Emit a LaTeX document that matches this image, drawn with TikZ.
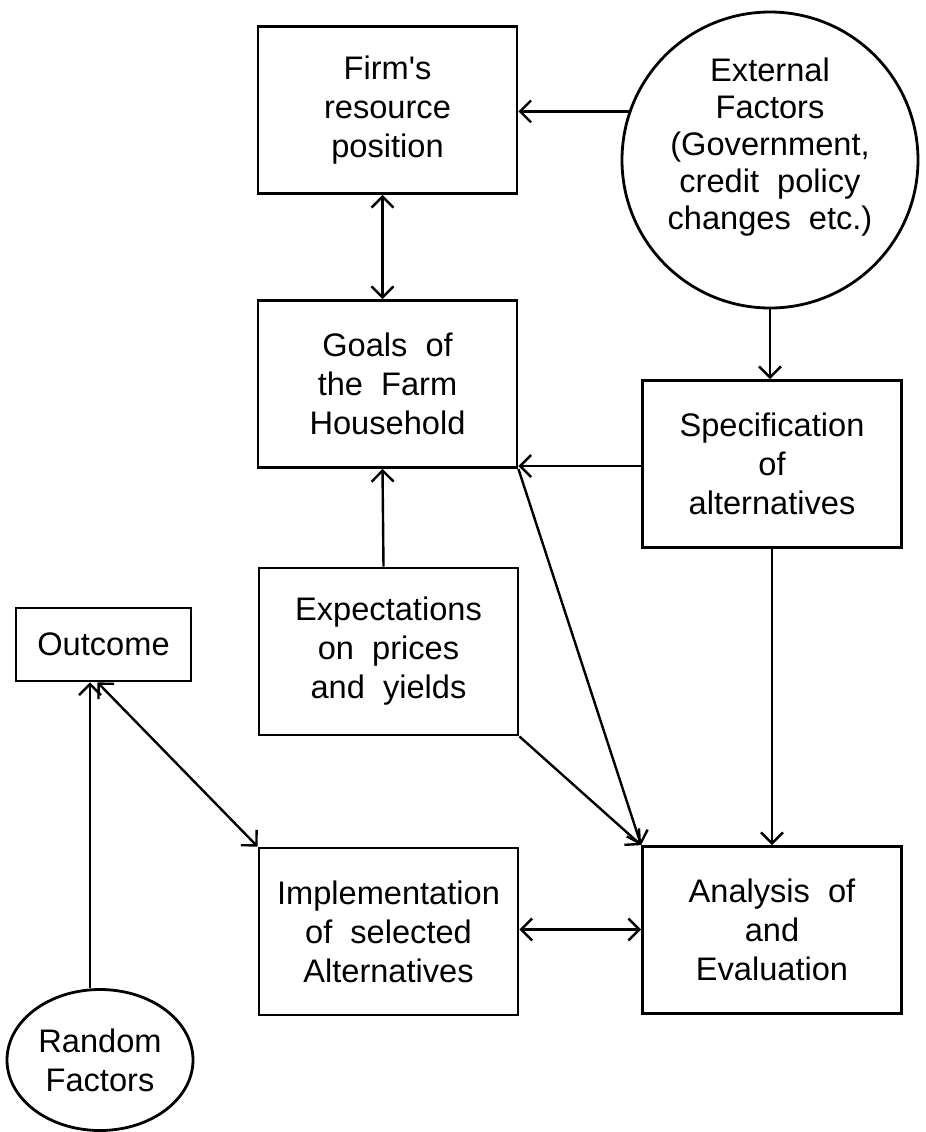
\documentclass[tikz,border=0pt]{standalone}
\usepackage{fontspec}
\setmainfont{Liberation Sans}
\usetikzlibrary{arrows.meta,shapes.geometric}
\begin{document}
\begin{tikzpicture}[x=0.5pt,y=-0.5pt,
  box/.style={draw, line width=1.4pt, minimum width=129.5pt, minimum height=83.5pt, inner sep=0pt, align=center, font=\fontsize{16.3}{19.5}\selectfont},
  conn/.style={line width=1.2pt, -{Straight Barb[length=5.5pt,width=11pt,line width=1.2pt]}},
  dconn/.style={line width=1.2pt, {Straight Barb[length=5.5pt,width=11pt,line width=1.2pt]}-{Straight Barb[length=5.5pt,width=11pt,line width=1.2pt]}},
  plain/.style={line width=1.2pt}
]
\useasboundingbox (0,0) rectangle (926,1132);

\node[box] (firm) at (387.5,110) {Firm\textquotesingle s\\resource\\position};
\node[draw, circle, line width=1.4pt, minimum size=148pt, inner sep=0pt] (ext) at (770,160) {};
\node[align=center, font=\fontsize{16.3}{18.5}\selectfont] (extt) at (770,147) {External\\Factors\\(Government,\\credit\ \ policy\\changes\ \ etc.)};
\node[box] (goals) at (387.5,384) {Goals\ \ of\\the\ \ Farm\\Household};
\node[box] (spec) at (772,464) {Specification\\of\\alternatives};
\node[box] (exp) at (388.5,651.5) {Expectations\\on\ \ prices\\and\ \ yields};
\node[draw, line width=1.4pt, minimum width=87.5pt, minimum height=36.5pt, inner sep=0pt, font=\fontsize{16.3}{19.5}\selectfont] (outc) at (103.5,644.5) {Outcome};
\node[box] (impl) at (388.5,931.5) {Implementation\\of\ \ selected\\Alternatives};
\node[box] (ana) at (772,930) {Analysis\ \ of\\and\\Evaluation};
\node[draw, ellipse, line width=1.4pt, minimum width=93pt, minimum height=70.5pt, inner sep=0pt, align=center, font=\fontsize{16.3}{19.5}\selectfont] (rand) at (100,1060) {Random\\Factors};

\draw[conn] (ext.161.5) -- (ext.161.5 -| firm.east);
\draw[dconn] ([xshift=-2.5pt]firm.south) -- ([xshift=-2.5pt]goals.north);
\draw[conn] (ext.south) -- (ext.south |- spec.north);
\draw[conn] ([yshift=-1pt]spec.west) -- ([yshift=-1pt]spec.west -| goals.east);
\draw[conn] ([xshift=-2.5pt]exp.north) -- ([xshift=-2.5pt]goals.south);
\draw[conn] (goals.south east) -- (ana.north west);
\draw[conn] (exp.south east) -- (ana.north west);
\draw[conn] (spec.south) -- (ana.north);
\draw[dconn] ([yshift=1pt]impl.east) -- ([yshift=1pt]impl.east -| ana.west);
\draw[dconn] ([xshift=-3pt]outc.south) -- (impl.north west);
\draw[conn] ([xshift=-5pt]rand.north) -- ([xshift=-5pt]rand.north |- outc.south);
\end{tikzpicture}
\end{document}
